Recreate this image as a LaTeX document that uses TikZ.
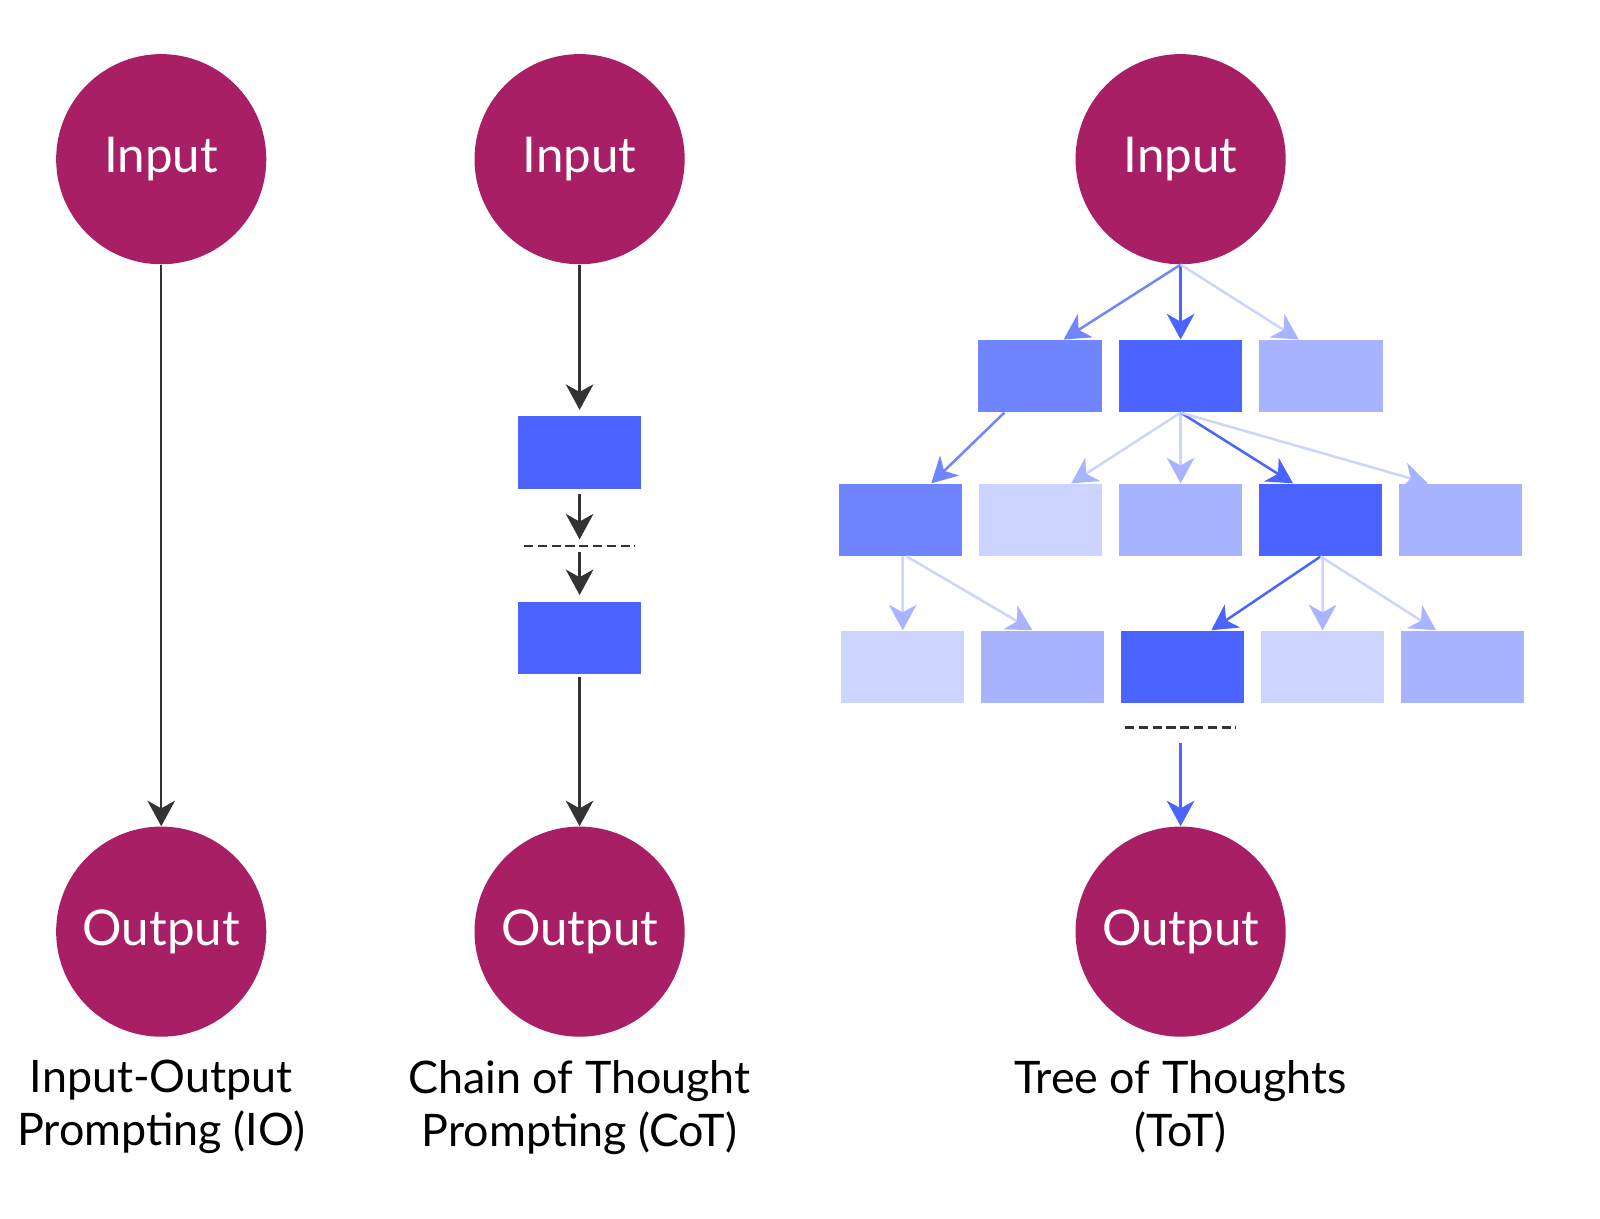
\documentclass[tikz,border=0pt]{standalone}
\usepackage{fontspec}
\setmainfont{Lato}
\usetikzlibrary{arrows.meta,positioning}

\definecolor{promptmag}{HTML}{A81F66}
\definecolor{thdark}{HTML}{4B64FF}
\definecolor{thmid}{HTML}{6F86FF}
\definecolor{thlight}{HTML}{A8B4FF}
\definecolor{thpale}{HTML}{CCD4FF}
\definecolor{flowgray}{HTML}{333333}

\tikzset{
  prompt/.style={circle, fill=promptmag, text=white, minimum size=4.12cm,
    inner sep=0pt, font=\fontsize{27.5}{32}\selectfont},
  thought/.style={rectangle, minimum width=2.42cm, minimum height=1.42cm, inner sep=0pt},
  caption/.style={align=center, font=\fontsize{25}{29.6}\selectfont},
  tip/.style={-{Stealth[length=0.5cm, width=0.54cm, inset=0.15cm, #1]}},
  flow/.style={draw=flowgray, line width=1.3pt, tip={}},
  strong/.style={draw=thdark, line width=1.4pt, tip={}},
  medium/.style={draw=thmid, line width=1.4pt, tip={}},
  faint/.style={draw=thpale, line width=1.4pt, tip={color=thlight}},
  dots/.style={minimum width=2.16cm, inner sep=0pt},
  dotline/.style={draw=flowgray, line width=1.5pt, dash pattern=on 0.18cm off 0.09cm}
}

\begin{document}
\begin{tikzpicture}[x=0.02cm, y=-0.02cm]
  \useasboundingbox (0,0) rectangle (1568,1194);

  % input-output prompting
  \node[prompt] (ioin) at (158,156) {Input};
  \node[prompt] (ioout) at (158,913) {Output};
  \node[caption] (iocap) at (158,1085) {Input-Output\\Prompting (IO)};
  \draw[flow] (ioin.south) -- (ioout.north);

  % chain of thought
  \node[prompt] (cotin) at (568,156) {Input};
  \node[thought, fill=thdark] (cot1) at (568,443.5) {};
  \node[dots, minimum height=0.24cm] (cotdots) at (568,535) {};
  \node[thought, fill=thdark] (cot2) at (568,625) {};
  \node[prompt] (cotout) at (568,913) {Output};
  \node[caption] (cotcap) at (568,1085) {Chain of Thought\\Prompting (CoT)};
  \draw[dotline] (cotdots.west) -- (cotdots.east);
  \draw[flow, shorten >=0.12cm] (cotin.south) -- (cot1.north);
  \draw[flow, shorten <=0.1cm] (cot1.south) -- (cotdots.north);
  \draw[flow, shorten >=0.12cm] (cotdots.south) -- (cot2.north);
  \draw[flow, shorten <=0.06cm] (cot2.south) -- (cotout.north);

  % tree of thoughts
  \node[prompt] (totin) at (1157,156) {Input};
  \node[thought, fill=thdark] (t12) at (1157,368.5) {};
  \node[thought, fill=thmid, left=0.32cm of t12] (t11) {};
  \node[thought, fill=thlight, right=0.32cm of t12] (t13) {};

  \node[thought, fill=thlight] (t23) at (1157,509.5) {};
  \node[thought, fill=thpale, left=0.31cm of t23] (t22) {};
  \node[thought, fill=thmid, left=0.31cm of t22] (t21) {};
  \node[thought, fill=thdark, right=0.31cm of t23] (t24) {};
  \node[thought, fill=thlight, right=0.31cm of t24] (t25) {};

  \node[thought, fill=thdark] (t33) at (1159,653.5) {};
  \node[thought, fill=thlight, left=0.31cm of t33] (t32) {};
  \node[thought, fill=thpale, left=0.31cm of t32] (t31) {};
  \node[thought, fill=thpale, right=0.31cm of t33] (t34) {};
  \node[thought, fill=thlight, right=0.31cm of t34] (t35) {};

  \node[dots, minimum height=0.6cm] (totdots) at (1157,713) {};
  \node[prompt] (totout) at (1157,913) {Output};
  \node[caption] (totcap) at (1157,1085) {Tree of Thoughts\\(ToT)};
  \draw[dotline] (totdots.west) -- (totdots.east);

  \draw[medium] (totin.south) -- ([xshift=0.46cm]t11.north);
  \draw[strong] (totin.south) -- (t12.north);
  \draw[faint] (totin.south) -- ([xshift=-0.44cm]t13.north);

  \draw[medium] ([xshift=-0.7cm]t11.south) -- ([xshift=0.6cm]t21.north);
  \draw[faint] (t12.south) -- ([xshift=0.6cm]t22.north);
  \draw[faint] (t12.south) -- (t23.north);
  \draw[strong] (t12.south) -- ([xshift=-0.54cm]t24.north);
  \draw[faint] (t12.south) -- ([xshift=-0.64cm]t25.north);

  \draw[faint] ([xshift=0.04cm]t21.south) -- (t31.north);
  \draw[faint] ([xshift=0.12cm]t21.south) -- ([xshift=-0.2cm]t32.north);
  \draw[strong] (t24.south) -- ([xshift=0.56cm]t33.north);
  \draw[faint] ([xshift=0.04cm]t24.south) -- (t34.north);
  \draw[faint] (t24.south) -- ([xshift=-0.52cm]t35.north);

  \draw[strong] (totdots.south) -- (totout.north);
\end{tikzpicture}
\end{document}
